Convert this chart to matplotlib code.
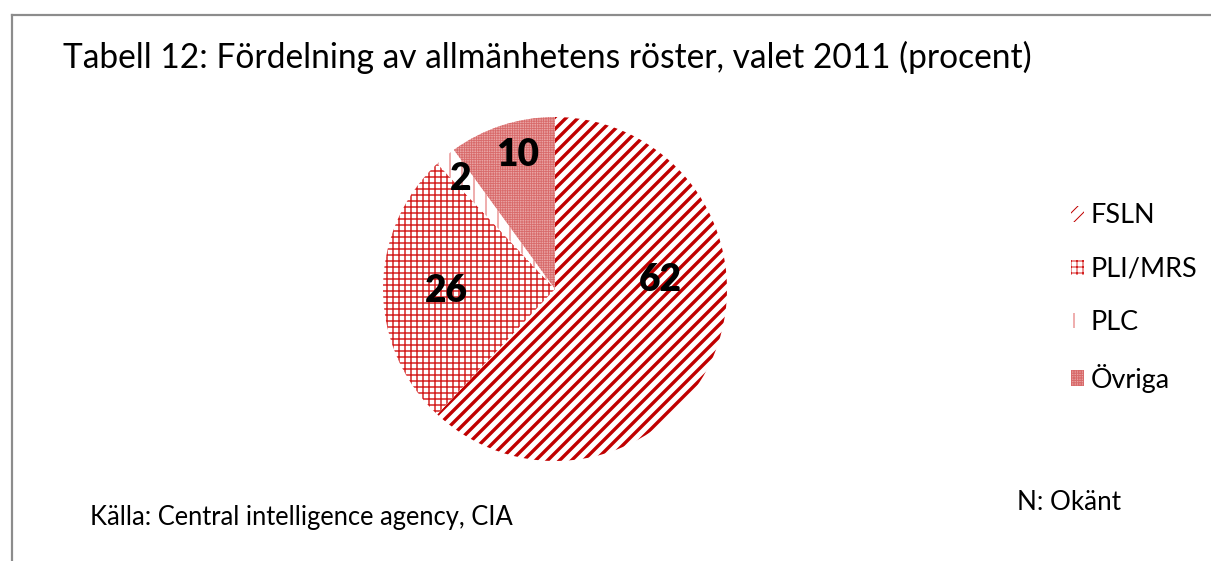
import matplotlib
matplotlib.use("Agg")
import matplotlib.pyplot as plt
from matplotlib.lines import Line2D

# ---- data ----
parties = ["FSLN", "PLI/MRS", "PLC", "Övriga"]
shares = [62, 26, 2, 10]
title = "Tabell 12: Fördelning av allmänhetens röster, valet 2011 (procent)"
source = "Källa: Central intelligence agency, CIA"
note = "N: Okänt"

W, H, DPI = 1211, 561, 72
plt.rcParams['font.family'] = ['Lato', 'DejaVu Sans']
fig = plt.figure(figsize=(W / DPI, H / DPI), dpi=DPI)

# pie axes (square in pixels)
cx, cy, R = 555, 289, 172
ax = fig.add_axes([(cx - R) / W, (H - cy - R) / H, 2 * R / W, 2 * R / H])

red = "#C00000"
face = ["white", "white", "white", "#E9A3A3"]
hcol = [red, "#D42020", "#E06060", "#D86A6A"]
hatches = ["//", "++", "|", "+++++"]
hlw = [3.4, 1.5, 1.0, 0.8]

wedges, _ = ax.pie(shares, startangle=90, counterclock=False, radius=1,
                   wedgeprops=dict(linewidth=0))
for w, fc, hc, ht, lw in zip(wedges, face, hcol, hatches, hlw):
    w.set_facecolor(fc)
    w.set_edgecolor(hc)
    w.set_hatch(ht)
    w.set_linewidth(0)
    if hasattr(w, "set_hatch_linewidth"):
        w.set_hatch_linewidth(lw)
ax.set_xlim(-1, 1)
ax.set_ylim(-1, 1)
ax.set_aspect('equal')
ax.axis('off')

# value labels
label_pos = [(0.61, 0.05), (-0.63, -0.01), (-0.55, 0.64), (-0.215, 0.78)]
for v, (x, y) in zip(shares, label_pos):
    ax.text(x, y, str(v), ha='center', va='center', fontsize=37,
            fontweight='heavy', color='black')

# legend
leg = fig.legend(wedges, parties, loc='upper left',
                 bbox_to_anchor=(1057 / W, 1 - 190 / H), frameon=False,
                 fontsize=27, handlelength=0.5, handleheight=0.5,
                 handletextpad=0.25, labelspacing=1.05, borderpad=0)
for h in leg.legend_handles:
    h.set_linewidth(0)

# texts
fig.text(63 / W, 1 - 57 / H, title, fontsize=33.5, ha='left', va='center')
fig.text(90 / W, 1 - 518 / H, source, fontsize=25.5, ha='left', va='center')
fig.text(1017 / W, 1 - 502 / H, note, fontsize=26, ha='left', va='center')

# frame lines
gray = "#8C8C8C"
fig.add_artist(Line2D([12 / W, 1.0], [1 - 15 / H, 1 - 15 / H],
                      transform=fig.transFigure, color=gray, linewidth=2.2))
fig.add_artist(Line2D([12 / W, 12 / W], [1 - 15 / H, 0.0],
                      transform=fig.transFigure, color=gray, linewidth=2.2))

fig.savefig("out.png", dpi=DPI, facecolor='white')
